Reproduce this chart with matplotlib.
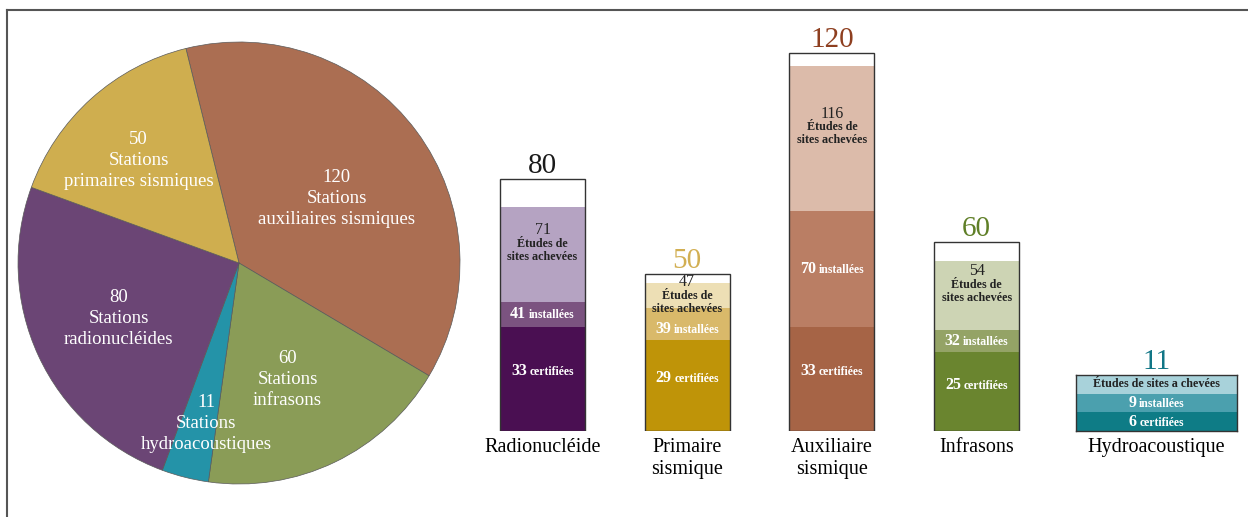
import numpy as np
import matplotlib
matplotlib.use("Agg")
import matplotlib.pyplot as plt
from matplotlib.lines import Line2D
from matplotlib.offsetbox import TextArea, HPacker, AnnotationBbox

plt.rcParams['font.family'] = ['Liberation Serif', 'DejaVu Serif']

# pie data (clockwise from the top)
pie_values = [120, 60, 11, 80, 50]
pie_labels = ["120\nStations\nauxiliaires sismiques",
              "60\nStations\ninfrasons",
              "11\nStations\nhydroacoustiques",
              "80\nStations\nradionucléides",
              "50\nStations\nprimaires sismiques"]
pie_colors = ["#AB6E52", "#8A9C57", "#2493A8", "#6B4575", "#CFAE4F"]
pie_label_r = [0.53, 0.57, 0.74, 0.60, 0.65]
pie_label_shift = [-3, -3, 2.5, 0, 2.4]  # degrees off the wedge middle

# stacked bars
categories = ["Radionucléide", "Primaire\nsismique", "Auxiliaire\nsismique", "Infrasons"]
totals = [80, 50, 120, 60]
etudes = [71, 47, 116, 54]
installees = [41, 39, 70, 32]
certifiees = [33, 29, 33, 25]
total_colors = ["#1a1a1a", "#D2AF52", "#8E3F20", "#5F7F27"]
etude_colors = ["#B5A3C2", "#EDDFB5", "#DCBBAA", "#CDD4B4"]
inst_colors = ["#7B5380", "#D9B96A", "#BA7E64", "#94A366"]
cert_colors = ["#4A0F52", "#BF9408", "#A66446", "#6A852F"]

# hydroacoustic box
hydro_name = "Hydroacoustique"
hydro_total = 11
hydro_installees = 9
hydro_certifiees = 6
hydro_colors = ["#0E7C86", "#4BA0AE", "#A8D2DA"]

W, H = 1248, 517
fig = plt.figure(figsize=(W / 100, H / 100), dpi=100)

# frame lines (top and left)
fig.add_artist(Line2D([7 / W, 1], [1 - 10 / H, 1 - 10 / H], color="#555555", lw=1.5))
fig.add_artist(Line2D([7 / W, 7 / W], [0, 1 - 10 / H], color="#555555", lw=1.5))


def num_word(ax, xy, num, word, color="white"):
    # bigger number followed by a smaller word, both bold
    box = HPacker(children=[
        TextArea(str(num), textprops=dict(fontsize=11.5, fontweight="bold", color=color)),
        TextArea(word, textprops=dict(fontsize=8.5, fontweight="bold", color=color))],
        align="baseline", pad=0, sep=2)
    ab = AnnotationBbox(box, xy, frameon=False, box_alignment=(0.5, 0.5), pad=0)
    ax.add_artist(ab)


# ---- pie ----
ax_p = fig.add_axes([18 / W, 33 / H, 442 / W, 442 / H])
wedges, _ = ax_p.pie(pie_values, colors=pie_colors, startangle=103.9, counterclock=False,
                     wedgeprops=dict(edgecolor="#5a5a5a", linewidth=0.5))
for w, lab, r, sh in zip(wedges, pie_labels, pie_label_r, pie_label_shift):
    mid = np.deg2rad((w.theta1 + w.theta2) / 2 + sh)
    ax_p.text(r * np.cos(mid), r * np.sin(mid), lab, ha="center", va="center",
              color="white", fontsize=13.5, linespacing=1.32)
ax_p.set_xlim(-1, 1)
ax_p.set_ylim(-1, 1)

# ---- bars ----
unit = 144.7
ax = fig.add_axes([(542.5 - 0.5 * unit) / W, 86 / H, 4 * unit / W, 409.5 / H])
x = np.arange(len(categories))
bw = 85 / unit
ax.bar(x, totals, bw, color="white")
ax.bar(x, etudes, bw, color=etude_colors)
ax.bar(x, installees, bw, color=inst_colors)
ax.bar(x, certifiees, bw, color=cert_colors)
ax.bar(x, totals, bw, fill=False, edgecolor="#333333", linewidth=1)

for i in range(len(categories)):
    ax.annotate(str(totals[i]), (x[i], totals[i]), xytext=(0, 0), textcoords="offset points",
                ha="center", va="bottom", fontsize=21, color=total_colors[i])
    ya = min((installees[i] + etudes[i]) / 2 + 5.5, totals[i] - 5)
    ax.annotate(str(etudes[i]), (x[i], ya), xytext=(0, 2), textcoords="offset points",
                ha="center", va="baseline", fontsize=11.5, color="#222222")
    ax.annotate("Études de\nsites achevées", (x[i], ya), xytext=(0, -0.5), textcoords="offset points",
                ha="center", va="top", fontsize=8.7, fontweight="bold", color="#222222",
                linespacing=1.08)
    y_inst = min((certifiees[i] + installees[i]) / 2, ya - 12.5)
    num_word(ax, (x[i], y_inst), installees[i], "installées")
    num_word(ax, (x[i], certifiees[i] * 0.58), certifiees[i], "certifiées")

ax.set_xlim(-0.5, 3.5)
ax.set_ylim(0, 130)
ax.set_xticks(x, categories, fontsize=14.5)
ax.tick_params(axis="x", length=0, pad=5)
ax.set_yticks([])
for s in ax.spines.values():
    s.set_visible(False)

# ---- hydro box ----
ax_h = fig.add_axes([1076 / W, 86 / H, 161 / W, 56 / H])
rows = np.arange(3)
ax_h.barh(rows, [hydro_total] * 3, height=1, color=hydro_colors)
num_word(ax_h, (hydro_total / 2, 0), hydro_certifiees, "certifiées")
num_word(ax_h, (hydro_total / 2, 1), hydro_installees, "installées")
ax_h.text(hydro_total / 2, 2, "Études de sites a chevées", ha="center", va="center",
          fontsize=8.7, fontweight="bold", color="#222222")
ax_h.set_xlim(0, hydro_total)
ax_h.set_ylim(-0.5, 2.5)
ax_h.annotate(str(hydro_total), (hydro_total / 2, 2.5), xytext=(0, 0),
              textcoords="offset points", ha="center", va="bottom", fontsize=21, color="#117686",
              annotation_clip=False)
ax_h.set_xticks([hydro_total / 2], [hydro_name], fontsize=14.5)
ax_h.tick_params(axis="x", length=0, pad=5)
ax_h.set_yticks([])
for s in ax_h.spines.values():
    s.set_color("#333333")
    s.set_linewidth(1)

fig.savefig("out.png", dpi=100)
